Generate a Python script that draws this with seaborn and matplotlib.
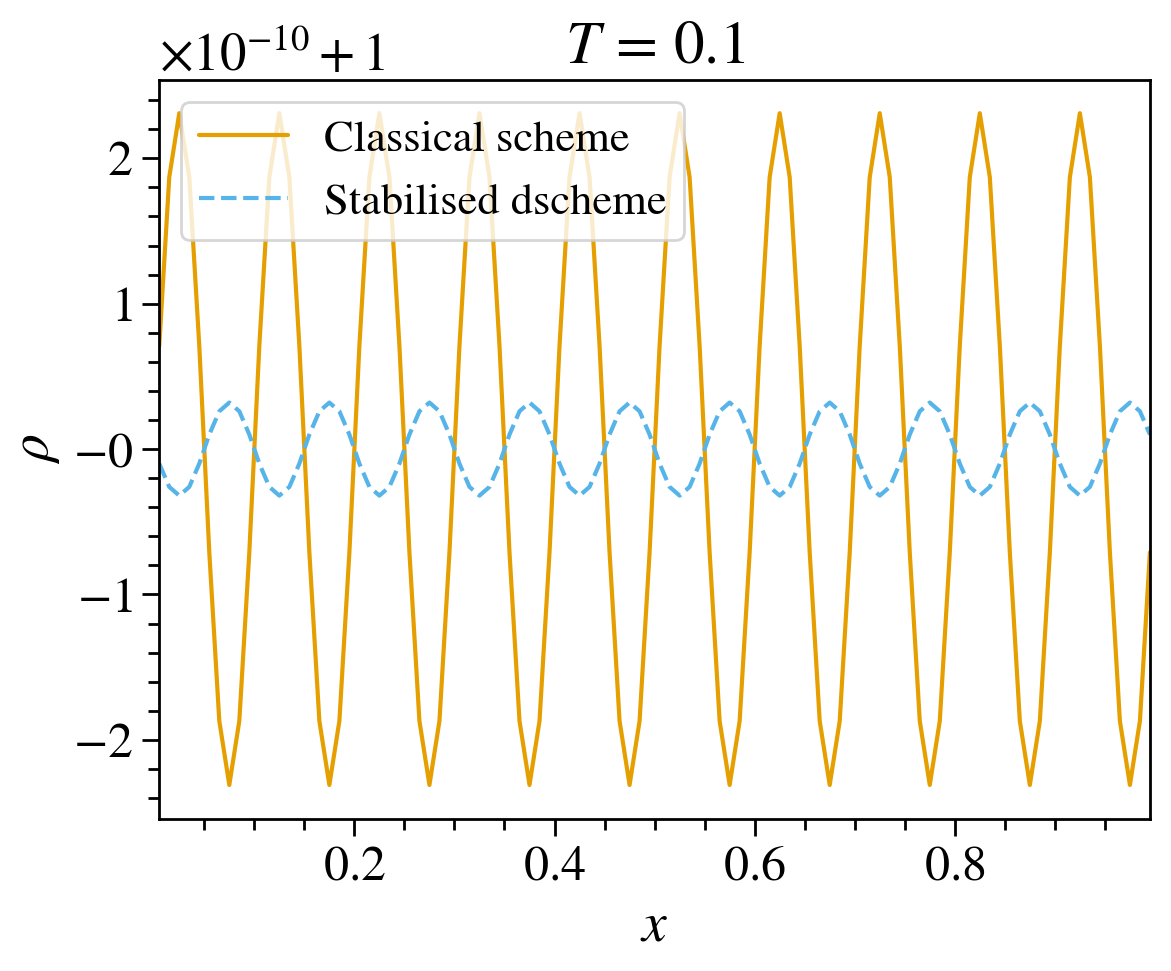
import numpy as np
import pandas as pd
import matplotlib
matplotlib.use("Agg")
import matplotlib.pyplot as plt
import seaborn as sns
from matplotlib.ticker import AutoMinorLocator, ScalarFormatter

# cell centres of the 100-cell grid
x_centres = [
    0.005, 0.015, 0.025, 0.035, 0.045, 0.055, 0.065, 0.075, 0.085, 0.095,
    0.105, 0.115, 0.125, 0.135, 0.145, 0.155, 0.165, 0.175, 0.185, 0.195,
    0.205, 0.215, 0.225, 0.235, 0.245, 0.255, 0.265, 0.275, 0.285, 0.295,
    0.305, 0.315, 0.325, 0.335, 0.345, 0.355, 0.365, 0.375, 0.385, 0.395,
    0.405, 0.415, 0.425, 0.435, 0.445, 0.455, 0.465, 0.475, 0.485, 0.495,
    0.505, 0.515, 0.525, 0.535, 0.545, 0.555, 0.565, 0.575, 0.585, 0.595,
    0.605, 0.615, 0.625, 0.635, 0.645, 0.655, 0.665, 0.675, 0.685, 0.695,
    0.705, 0.715, 0.725, 0.735, 0.745, 0.755, 0.765, 0.775, 0.785, 0.795,
    0.805, 0.815, 0.825, 0.835, 0.845, 0.855, 0.865, 0.875, 0.885, 0.895,
    0.905, 0.915, 0.925, 0.935, 0.945, 0.955, 0.965, 0.975, 0.985, 0.995,
]

# density deviation from 1, in units of 1e-10
classical_dev = [
    0.71, 1.87, 2.31, 1.87, 0.71, -0.71, -1.87, -2.31, -1.87, -0.71,
    0.71, 1.87, 2.31, 1.87, 0.71, -0.71, -1.87, -2.31, -1.87, -0.71,
    0.71, 1.87, 2.31, 1.87, 0.71, -0.71, -1.87, -2.31, -1.87, -0.71,
    0.71, 1.87, 2.31, 1.87, 0.71, -0.71, -1.87, -2.31, -1.87, -0.71,
    0.71, 1.87, 2.31, 1.87, 0.71, -0.71, -1.87, -2.31, -1.87, -0.71,
    0.71, 1.87, 2.31, 1.87, 0.71, -0.71, -1.87, -2.31, -1.87, -0.71,
    0.71, 1.87, 2.31, 1.87, 0.71, -0.71, -1.87, -2.31, -1.87, -0.71,
    0.71, 1.87, 2.31, 1.87, 0.71, -0.71, -1.87, -2.31, -1.87, -0.71,
    0.71, 1.87, 2.31, 1.87, 0.71, -0.71, -1.87, -2.31, -1.87, -0.71,
    0.71, 1.87, 2.31, 1.87, 0.71, -0.71, -1.87, -2.31, -1.87, -0.71,
]
stabilised_dev = [
    -0.10, -0.26, -0.32, -0.26, -0.10, 0.10, 0.26, 0.32, 0.26, 0.10,
    -0.10, -0.26, -0.32, -0.26, -0.10, 0.10, 0.26, 0.32, 0.26, 0.10,
    -0.10, -0.26, -0.32, -0.26, -0.10, 0.10, 0.26, 0.32, 0.26, 0.10,
    -0.10, -0.26, -0.32, -0.26, -0.10, 0.10, 0.26, 0.32, 0.26, 0.10,
    -0.10, -0.26, -0.32, -0.26, -0.10, 0.10, 0.26, 0.32, 0.26, 0.10,
    -0.10, -0.26, -0.32, -0.26, -0.10, 0.10, 0.26, 0.32, 0.26, 0.10,
    -0.10, -0.26, -0.32, -0.26, -0.10, 0.10, 0.26, 0.32, 0.26, 0.10,
    -0.10, -0.26, -0.32, -0.26, -0.10, 0.10, 0.26, 0.32, 0.26, 0.10,
    -0.10, -0.26, -0.32, -0.26, -0.10, 0.10, 0.26, 0.32, 0.26, 0.10,
    -0.10, -0.26, -0.32, -0.26, -0.10, 0.10, 0.26, 0.32, 0.26, 0.10,
]
labels = ["Classical scheme", "Stabilised dscheme"]
colors = ["#E69F00", "#56B4E9"]


class OffsetFormatter(ScalarFormatter):
    """ScalarFormatter that shows the zero tick as -0 (round-off in the
    original) and puts spaces around the '+' of the offset."""

    def __call__(self, x, pos=None):
        s = super().__call__(x, pos)
        return s.replace(r"\mathdefault{0}", r"\mathdefault{-0}")

    def get_offset(self):
        s = super().get_offset()
        return s.replace(r"\mathdefault{+", r"+\mathdefault{")


sns.set_theme(style="ticks")
plt.rcParams["font.family"] = ["STIXGeneral", "DejaVu Serif"]
plt.rcParams["mathtext.fontset"] = "stix"
plt.rcParams["axes.formatter.use_mathtext"] = True
plt.rcParams["axes.edgecolor"] = "black"
plt.rcParams["axes.labelcolor"] = "black"
plt.rcParams["text.color"] = "black"
plt.rcParams["xtick.color"] = "black"
plt.rcParams["ytick.color"] = "black"

df = pd.DataFrame({
    "x": x_centres,
    "classical": 1 + np.array(classical_dev) * 1e-10,
    "stabilised": 1 + np.array(stabilised_dev) * 1e-10,
})

fig, ax = plt.subplots(figsize=(5.855, 4.855), dpi=200)
fig.subplots_adjust(left=0.136, right=0.982, top=0.918, bottom=0.157)

sns.lineplot(data=df, x="x", y="classical", color=colors[0], lw=1.5,
             label=labels[0], ax=ax)
sns.lineplot(data=df, x="x", y="stabilised", color=colors[1], lw=1.5,
             linestyle="--", label=labels[1], ax=ax)

ax.set_xlim(df["x"].min(), df["x"].max())
ax.yaxis.set_major_formatter(OffsetFormatter(useMathText=True))
ax.xaxis.set_minor_locator(AutoMinorLocator())
ax.yaxis.set_minor_locator(AutoMinorLocator())
ax.tick_params(which="both", labelsize=18, width=1)
ax.yaxis.get_offset_text().set_fontsize(19)

ax.set_title(r"$T\,=\,0.1$", fontsize=22)
ax.set_xlabel(r"$x$", fontsize=20)
ax.set_ylabel(r"$\rho$", fontsize=20)
ax.legend(loc="upper left", fontsize=16)

for s in ax.spines.values():
    s.set_linewidth(1)

fig.savefig("out.png", dpi=200)
